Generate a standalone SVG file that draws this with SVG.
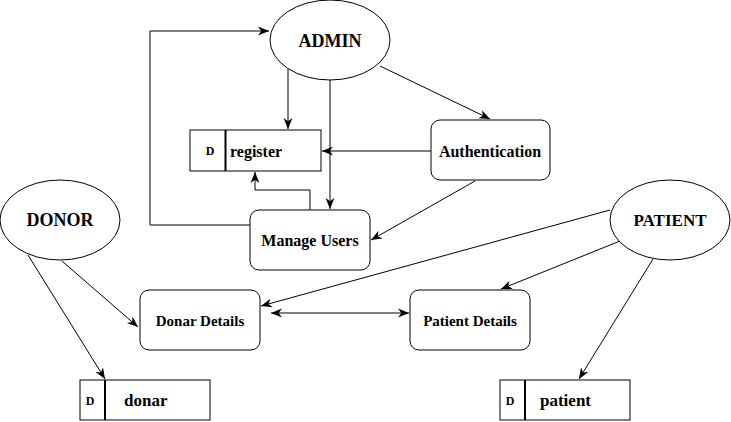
<svg xmlns="http://www.w3.org/2000/svg" width="731" height="422" viewBox="0 0 731 422">
<style>
.shape{fill:#fff;stroke:#000;stroke-width:1}
.ln{fill:none;stroke:#000;stroke-width:1}
.a{marker-end:url(#arr)}
.t{font-family:"Liberation Serif","Times New Roman",serif;font-weight:bold;fill:#000;dominant-baseline:central}
.c{text-anchor:middle}
.big{font-size:18px}
.mid{font-size:16px}
.sm{font-size:15px}
.d{font-size:12px}
</style>
<defs>
<marker id="arr" viewBox="0 0 10 10" refX="10" refY="5" markerWidth="11" markerHeight="11" markerUnits="userSpaceOnUse" orient="auto-start-reverse">
<path d="M0,1 L10,5 L0,9 L3,5 Z" fill="#000"/>
</marker>
</defs>
<rect width="731" height="422" fill="#fff"/>
<g id="connectors">
<polyline class="ln a" points="250,225 150,225 150,31 269,31"/>
<line class="ln a" x1="288" y1="69" x2="288" y2="129"/>
<line class="ln a" x1="330" y1="80" x2="330" y2="209"/>
<polyline class="ln a" points="310,210 310,190 255,190 255,172"/>
<line class="ln a" x1="431" y1="151" x2="322" y2="151"/>
<line class="ln a" x1="380" y1="66" x2="490" y2="119"/>
<line class="ln a" x1="475" y1="181" x2="371" y2="240"/>
<line class="ln a" x1="28" y1="255" x2="105" y2="379"/>
<line class="ln a" x1="62" y1="261" x2="138" y2="327"/>
<line class="ln a" x1="653" y1="259" x2="579" y2="379"/>
<line class="ln a" x1="620" y1="241" x2="501" y2="289"/>
<line class="ln a" x1="610" y1="210" x2="261" y2="306"/>
<line class="ln" x1="271" y1="313" x2="409" y2="313" marker-start="url(#arr)" marker-end="url(#arr)"/>
</g>
<g id="admin">
<ellipse class="shape" cx="330" cy="40" rx="60" ry="40"/>
<text class="t c big" x="330" y="41">ADMIN</text>
</g>
<g id="register">
<rect class="shape" x="190" y="130" width="131" height="41"/>
<line x1="225.5" y1="130" x2="225.5" y2="171" stroke="#000" stroke-width="2"/>
<text class="t c d" x="210" y="151">D</text>
<text class="t mid" x="230" y="151">register</text>
</g>
<g id="authentication">
<rect class="shape" x="431" y="120" width="119" height="60" rx="9"/>
<text class="t c mid" x="490" y="151">Authentication</text>
</g>
<g id="manage-users">
<rect class="shape" x="250" y="210" width="120" height="60" rx="9"/>
<text class="t c mid" x="310" y="240">Manage Users</text>
</g>
<g id="donor">
<ellipse class="shape" cx="60" cy="220" rx="60" ry="40"/>
<text class="t c big" x="60" y="220">DONOR</text>
</g>
<g id="patient-entity">
<ellipse class="shape" cx="670" cy="220" rx="60" ry="40"/>
<text class="t c" style="font-size:17px" x="670" y="220">PATIENT</text>
</g>
<g id="donar-details">
<rect class="shape" x="140" y="290" width="120" height="60" rx="9"/>
<text class="t c sm" x="200" y="321">Donar Details</text>
</g>
<g id="patient-details">
<rect class="shape" x="410" y="290" width="120" height="60" rx="9"/>
<text class="t c sm" x="470" y="321">Patient Details</text>
</g>
<g id="donar-store">
<rect class="shape" x="80" y="380" width="130" height="40"/>
<line x1="105" y1="380" x2="105" y2="420" stroke="#000" stroke-width="2"/>
<text class="t c d" x="90" y="401">D</text>
<text class="t" style="font-size:17px" x="124" y="400">donar</text>
</g>
<g id="patient-store">
<rect class="shape" x="500" y="380" width="130" height="40"/>
<line x1="525" y1="380" x2="525" y2="420" stroke="#000" stroke-width="2"/>
<text class="t c d" x="510" y="401">D</text>
<text class="t" style="font-size:17px" x="540" y="400">patient</text>
</g>
</svg>
